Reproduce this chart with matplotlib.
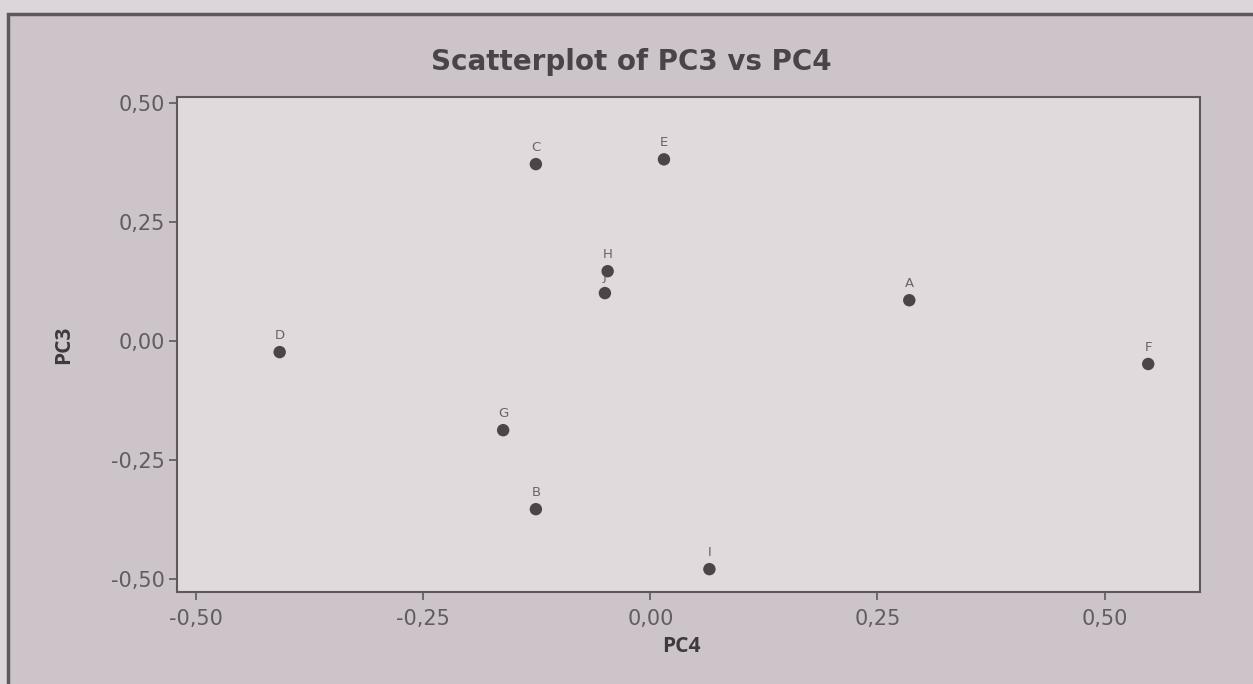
import matplotlib
matplotlib.use("Agg")
import matplotlib.pyplot as plt
from matplotlib.patches import Rectangle

# Data
labels = ["A", "B", "C", "D", "E", "F", "G", "H", "J", "I"]
pc4 = [0.285, -0.126, -0.126, -0.408, 0.015, 0.548, -0.162, -0.047, -0.050, 0.065]
pc3 = [0.086, -0.353, 0.372, -0.023, 0.382, -0.048, -0.187, 0.147, 0.101, -0.479]

xticks = [-0.50, -0.25, 0.00, 0.25, 0.50]
xtick_labels = ["-0,50", "-0,25", "0,00", "0,25", "0,50"]
yticks = [-0.50, -0.25, 0.00, 0.25, 0.50]
ytick_labels = ["-0,50", "-0,25", "0,00", "0,25", "0,50"]

plt.rcParams['font.family'] = ['DejaVu Sans']

W, H = 1253, 684
fig = plt.figure(figsize=(W / 100, H / 100), dpi=100)
fig.patch.set_facecolor("#ddd5d9")

# outer graph frame
frame = Rectangle((8 / W, -0.05), 1.05, (H - 14) / H + 0.05, transform=fig.transFigure,
                  facecolor="#ccc4c9", edgecolor="#5e585c", linewidth=2.5, zorder=-10)
fig.add_artist(frame)

ax = fig.add_axes([177 / W, 1 - 592 / H, (1200 - 177) / W, (592 - 97) / H])
ax.set_zorder(5)
ax.set_facecolor("#e1dadd")

ax.scatter(pc4, pc3, s=80, color="#4b4549", zorder=3, edgecolors="none")
for lab, x, y in zip(labels, pc4, pc3):
    ax.annotate(lab, (x, y), xytext=(0, 7.5), textcoords="offset points",
                ha="center", va="bottom", fontsize=9.5, color="#6a6468", zorder=1)

ax.set_xlim(-0.521, 0.605)
ax.set_ylim(-0.527, 0.513)
ax.set_xticks(xticks)
ax.set_xticklabels(xtick_labels)
ax.set_yticks(yticks)
ax.set_yticklabels(ytick_labels)
ax.tick_params(axis="both", direction="out", length=6, width=1.2, color="#5e585c",
               labelsize=15, labelcolor="#625c60", pad=3)
ax.tick_params(axis="x", pad=6)
for sp in ax.spines.values():
    sp.set_color("#5e585c")
    sp.set_linewidth(1.5)

ax.set_xlabel("PC4", fontsize=15, fontweight="bold", color="#3f393d",
              family=["Open Sans", "DejaVu Sans"])
ax.set_ylabel("PC3", fontsize=15, fontweight="bold", color="#3f393d",
              family=["Open Sans", "DejaVu Sans"])
ax.xaxis.set_label_coords((681 - 177) / 1023, (592 - 636) / 495)
ax.yaxis.set_label_coords((74 - 177) / 1023, 0.5)

fig.text(631 / W, 1 - 62 / H, "Scatterplot of PC3 vs PC4", ha="center", va="center",
         fontsize=20, fontweight="bold", color="#4a4448")

fig.savefig("out.png", dpi=100, facecolor=fig.get_facecolor())
